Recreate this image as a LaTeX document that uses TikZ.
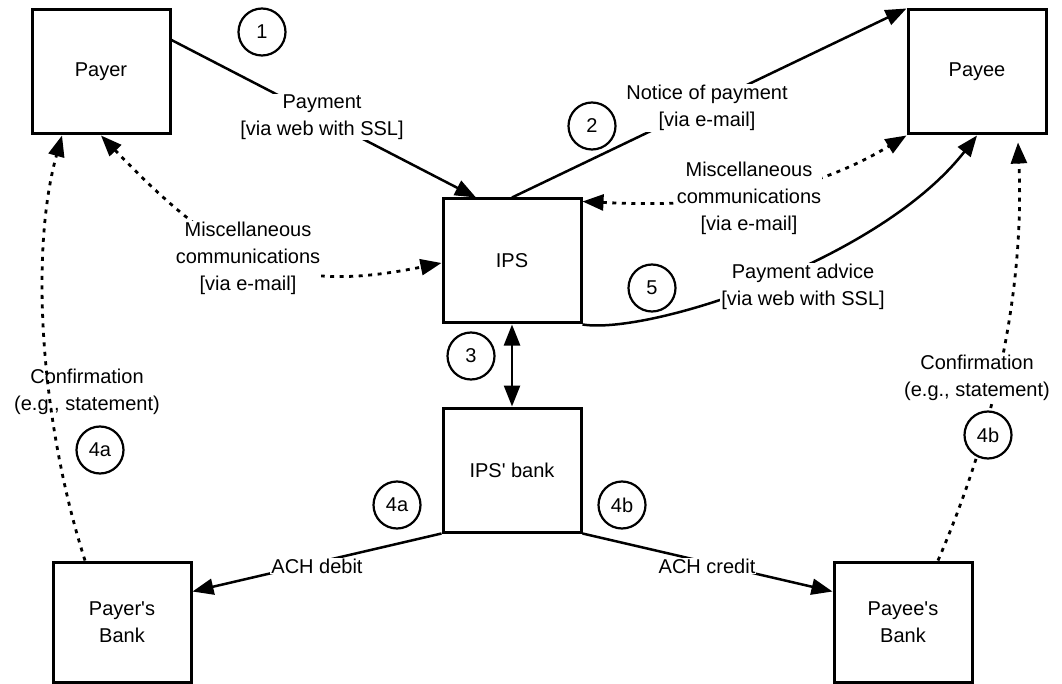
\documentclass[tikz,border=0pt]{standalone}
\usepackage{fontspec}
\setmainfont{Liberation Sans}[Ligatures=TeXOff]
\usetikzlibrary{arrows.meta}

\begin{document}
\begin{tikzpicture}[x=1pt,y=-1pt,
		font=\fontsize{20}{27}\selectfont,
		>={Triangle[length=21pt,width=16pt]},
		party/.style={draw,line width=3pt,minimum width=138pt,minimum height=124pt,align=center},
		stepnum/.style={circle,draw,line width=2.2pt,minimum size=47pt,inner sep=0pt,fill=white},
		flow/.style={line width=2.5pt},
		misc/.style={line width=2.8pt,dash pattern=on 4pt off 5.5pt},
		lbl/.style={fill=white,align=center,inner sep=1pt}]
		\clip (0,0) rectangle (1062,684);
		
		\node[party] (payer) at (101,72) {Payer};
		\node[party] (payee) at (977,72) {Payee};
		\node[party] (ips) at (512,261) {IPS};
		\node[party] (ipsbank) at (512,470) {IPS' bank};
		\node[party,minimum height=120pt] (payerbank) at (122,622) {Payer's\\Bank};
		\node[party,minimum height=120pt] (payeebank) at (903,622) {Payee's\\Bank};
		
		\draw[flow,->] ([yshift=32pt]payer.east) -- ([xshift=-36pt]ips.north);
		\draw[flow,->] (ips.north) -- (payee.north west);
		\draw[flow,<->] (ips.south) -- (ipsbank.north);
		\draw[flow,->] (ipsbank.south west) -- ([yshift=-31pt]payerbank.north east);
		\draw[flow,->] (ipsbank.south east) -- ([yshift=-31pt]payeebank.north west);
		\draw[flow,->] (ips.south east) .. controls (650,335) and (880,260) .. (payee.south);
		
		\draw[misc,<->] (payer.south) .. controls (230,270) and (293,293) .. ([yshift=-2pt]ips.west);
		\draw[misc,<->] ([yshift=-4pt]ips.north east) .. controls (700,207) and (800,200) .. (payee.south west);
		\draw[misc,->] ([xshift=-37pt]payerbank.north) .. controls (40,420) and (30,250) .. ([xshift=-39pt]payer.south);
		\draw[misc,->] ([xshift=35pt]payeebank.north) .. controls (990,440) and (1025,300) .. ([xshift=41pt,yshift=-7pt]payee.south);
		
		\node[lbl] (paylbl) at (322,117) {Payment\\{}[via web with SSL]};
		\node[lbl] (notelbl) at (707,108) {Notice of payment\\{}[via e-mail]};
		\node[lbl] (misclbl) at (248,258) {Miscellaneous\\communications\\{}[via e-mail]};
		\node[lbl] (miscrlbl) at (749,198) {Miscellaneous\\communications\\{}[via e-mail]};
		\node[lbl] (advlbl) at (803,287) {Payment advice\\{}[via web with SSL]};
		\node[lbl] (debitlbl) at (317,566) {ACH debit};
		\node[lbl] (creditlbl) at (707,566) {ACH credit};
		\node[align=center] (conflbl) at (87,392) {Confirmation\\(e.g., statement)};
		\node[lbl] (confrlbl) at (977,378) {Confirmation\\(e.g., statement)};
		
		\node[stepnum] (n1) at (262,32) {1};
		\node[stepnum] (n2) at (592,126) {2};
		\node[stepnum] (n3) at (471,356) {3};
		\node[stepnum] (n5) at (652,288) {5};
		\node[stepnum] (n4a) at (397,505) {4a};
		\node[stepnum] (n4b) at (622,505) {4b};
		\node[stepnum] (n4aconf) at (100,450) {4a};
		\node[stepnum] (n4bconf) at (988,435) {4b};
\end{tikzpicture}
\end{document}
